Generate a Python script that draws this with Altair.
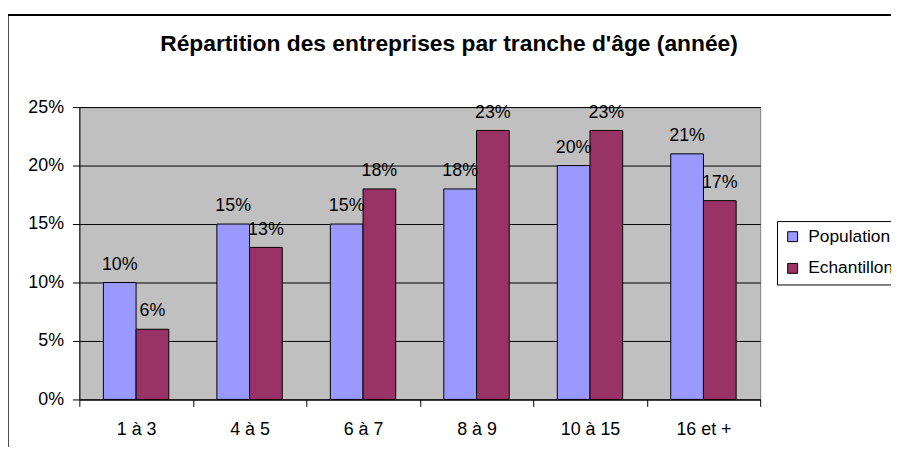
import altair as alt
import pandas as pd

categories = ["1 à 3", "4 à 5", "6 à 7", "8 à 9", "10 à 15", "16 et +"]
population = [0.10, 0.15, 0.15, 0.18, 0.20, 0.21]
echantillon = [0.06, 0.13, 0.18, 0.23, 0.23, 0.17]
series = ["Population", "Echantillon"]
colors = ["#9999FF", "#993366"]
y_ticks = [0, 0.05, 0.10, 0.15, 0.20, 0.25]
title_text = "Répartition des entreprises par tranche d'âge (année)"

rows = []
for c, p, e in zip(categories, population, echantillon):
    rows.append({"tranche": c, "serie": series[0], "valeur": p})
    rows.append({"tranche": c, "serie": series[1], "valeur": e})
df = pd.DataFrame(rows)

FONT = "Liberation Sans"

x = alt.X(
    "tranche:N", sort=categories, title=None,
    scale=alt.Scale(paddingInner=0, paddingOuter=0),
    axis=alt.Axis(labelAngle=0, tickBand="extent", ticks=True, tickSize=7,
                  labelPadding=14, domainColor="black", tickColor="black",
                  labelColor="black", labelFont=FONT, labelFontSize=18,
                  grid=False, labelBaseline="top"),
)
xo = alt.XOffset("serie:N", sort=series,
                 scale=alt.Scale(paddingInner=0, paddingOuter=0.735))
y = alt.Y(
    "valeur:Q", title=None,
    scale=alt.Scale(domain=[0, 0.25], nice=False),
    axis=alt.Axis(values=y_ticks, format="0%", grid=True, gridColor="black",
                  gridWidth=1, gridOpacity=1, tickSize=7, labelPadding=9,
                  domainColor="black", tickColor="black", labelColor="black",
                  labelFont=FONT, labelFontSize=18),
)
color = alt.Color(
    "serie:N", sort=series,
    scale=alt.Scale(domain=series, range=colors),
    legend=alt.Legend(title=None, orient="none", legendX=704, legendY=115,
                      labelFont=FONT, labelFontSize=17.5, labelColor="black",
                      symbolType="square", symbolSize=100,
                      symbolStrokeColor="black", symbolStrokeWidth=1,
                      strokeColor="black", fillColor="white", padding=7,
                      rowPadding=13, labelOffset=7),
)

base = alt.Chart(df)
bars = base.mark_bar(stroke="black", strokeWidth=1).encode(
    x=x, xOffset=xo, y=y, color=color
)
labels = base.mark_text(dy=-13, baseline="alphabetic", font=FONT,
                        fontSize=18, color="black").encode(
    x=x, xOffset=xo, y=y, text=alt.Text("valeur:Q", format=".0%")
)
frame = alt.Chart(pd.DataFrame({"a": [0]})).mark_rect(
    filled=False, stroke="black", strokeWidth=2
).encode(x=alt.value(-72.3), x2=alt.value(900), y=alt.value(-93),
         y2=alt.value(500))

chart = alt.layer(frame, bars, labels).properties(
    width=687, height=295,
    autosize=alt.AutoSizeParams(type="none"),
    padding={"left": 72, "top": 98, "right": 132, "bottom": 46},
    title=alt.Title(text=title_text, font=FONT, fontSize=23,
                    fontWeight="bold", color="black", anchor="middle",
                    dx=29.5, offset=0, dy=60, baseline="alphabetic"),
).configure_view(fill="#C0C0C0", stroke="#808080", strokeWidth=1)

chart.save("out.html", embed_options={"renderer": "svg", "actions": False})
